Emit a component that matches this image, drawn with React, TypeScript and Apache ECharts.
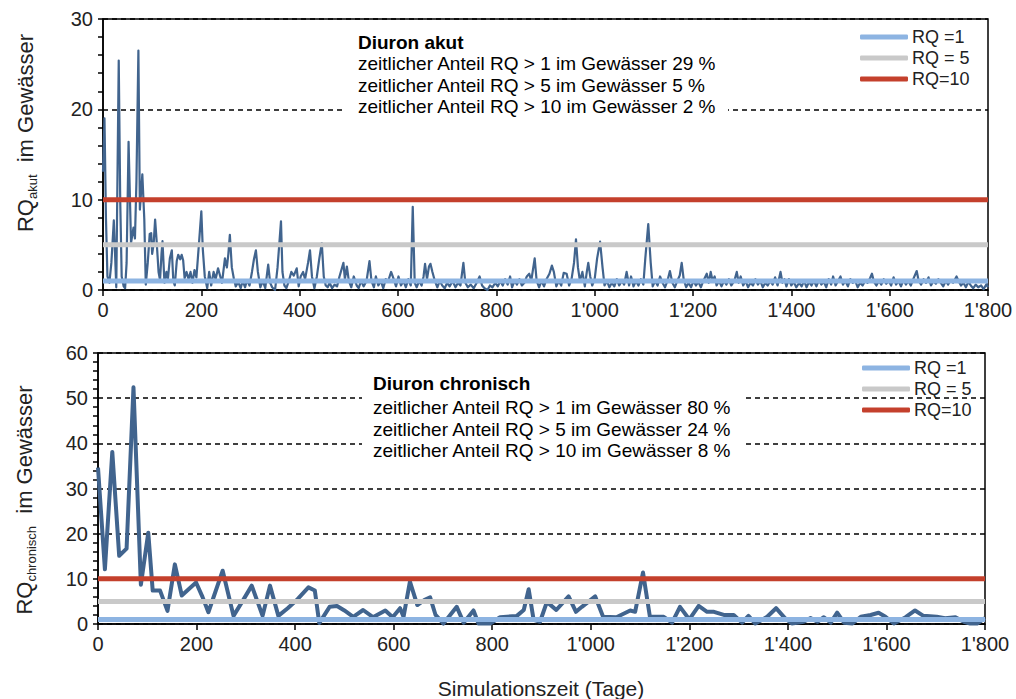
import React, { useEffect, useRef } from "react";
import * as echarts from "echarts";

// ---------- DATA ----------
const akutData: [number, number][] = [
  [0, 13.1], [3, 19.0], [6, 8], [9, 1.5], [13, 0.8], [17, 3], [22, 7.7], [27, 0.3], [32, 25.4], [35, 10],
  [38, 1.5], [42, 0.4], [45, 0.2], [48, 3], [52, 16.4], [57, 5.2], [62, 6.9], [65, 5.7], [68, 12], [72, 26.5],
  [75, 8.9], [80, 12.8], [84, 7.8], [87, 0.6], [91, 3], [95, 6.2], [98, 6.3], [100, 4.0], [103, 5.1], [106, 7.8],
  [109, 5.5], [113, 2], [116, 1.1], [119, 4], [121, 5.4], [125, 0.8], [129, 2], [132, 1.2], [136, 3.5], [140, 4.4],
  [143, 1], [146, 0.5], [150, 3.2], [153, 3.9], [157, 3.4], [160, 3.9], [163, 3.3], [166, 1.3], [170, 2.0], [174, 1.2],
  [178, 2.0], [182, 0.8], [186, 2.2], [190, 1.4], [195, 5], [200, 8.7], [203, 4.5], [207, 1.5], [212, 0.2], [216, 2],
  [220, 0.5], [225, 2.0], [229, 1.2], [234, 2.4], [238, 1.6], [242, 0.8], [248, 3.5], [252, 2.5], [255, 4.0], [258, 6.1],
  [262, 2.5], [266, 1.3], [270, 0.4], [275, 0.9], [280, 0.2], [284, 1.0], [289, 0.3], [293, 1.1], [298, 0.5], [303, 2.0],
  [307, 3.4], [311, 4.4], [315, 2.0], [320, 0.3], [325, 1.0], [330, 0.2], [336, 2.8], [340, 0.8], [344, 0.3], [350, 0.0],
  [355, 2.5], [362, 7.6], [365, 2.0], [369, 0.5], [373, 0.2], [378, 1.0], [383, 2.0], [388, 1.6], [394, 2.4], [398, 0.4],
  [402, 1.5], [407, 2.0], [411, 1.2], [417, 3.0], [421, 4.4], [425, 1.5], [430, 0.2], [435, 1.5], [440, 3.5], [445, 5.2],
  [449, 1.5], [453, 0.5], [457, 0.3], [461, 0.8], [466, 0.2], [471, 0.6], [476, 0.4], [481, 1.5], [489, 3.0], [492, 1.2],
  [496, 2.6], [500, 1.0], [505, 0.3], [510, 1.5], [516, 0.5], [520, 0.2], [525, 1.0], [530, 0.4], [536, 1.0], [542, 3.2],
  [546, 1.0], [551, 0.3], [555, 1.5], [560, 0.5], [565, 1.0], [570, 0.2], [575, 1.2], [580, 1.0], [586, 2.0], [590, 1.4],
  [596, 0.4], [601, 1.5], [606, 0.5], [611, 1.0], [616, 0.3], [621, 1.2], [626, 0.5], [630, 9.2], [634, 0.8], [638, 0.3],
  [643, 1.0], [648, 0.5], [652, 1.5], [655, 2.9], [659, 1.2], [663, 2.6], [666, 2.9], [670, 2.0], [675, 1.0], [680, 0.3],
  [685, 1.0], [690, 0.5], [695, 0.2], [700, 0.8], [705, 0.4], [711, 1.0], [717, 0.3], [722, 0.8], [727, 0.5], [733, 3.0],
  [737, 0.8], [742, 0.3], [748, 0.6], [754, 0.2], [760, 0.8], [766, 1.5], [771, 0.5], [776, 0.2], [782, 0.0], [787, 0.5],
  [792, 0.3], [798, 0.8], [803, 0.4], [808, 1.0], [813, 0.5], [818, 1.2], [823, 0.6], [828, 1.5], [832, 0.3], [837, 1.0],
  [842, 0.6], [847, 1.2], [852, 0.5], [857, 0.8], [862, 1.5], [867, 1.8], [871, 1.0], [878, 3.5], [882, 1.0], [887, 0.3],
  [892, 1.0], [897, 0.4], [902, 1.2], [908, 1.8], [913, 2.7], [917, 2.0], [922, 0.4], [927, 1.0], [932, 0.5], [937, 1.9],
  [943, 1.8], [948, 0.5], [953, 1.2], [958, 3.0], [962, 5.6], [966, 2.5], [970, 1.0], [975, 2.0], [980, 0.4], [984, 2.0],
  [987, 3.0], [991, 1.5], [995, 0.5], [1000, 1.2], [1005, 3.5], [1011, 5.35], [1016, 2.5], [1020, 0.5], [1025, 1.0], [1030, 0.3],
  [1035, 0.8], [1040, 0.4], [1045, 1.2], [1050, 0.5], [1055, 1.0], [1060, 0.6], [1065, 2.0], [1070, 0.5], [1074, 1.5], [1079, 0.4],
  [1084, 1.0], [1089, 0.5], [1094, 1.2], [1099, 0.6], [1103, 3.5], [1109, 7.3], [1114, 3.0], [1118, 0.4], [1123, 1.0], [1128, 0.5],
  [1133, 1.5], [1138, 0.8], [1143, 0.3], [1148, 1.0], [1153, 2.1], [1158, 0.8], [1163, 0.3], [1168, 1.0], [1173, 1.6], [1177, 3.0],
  [1181, 1.2], [1186, 0.3], [1191, 0.8], [1196, 0.3], [1201, 1.0], [1206, 0.5], [1211, 0.9], [1216, 0.3], [1221, 1.0], [1228, 1.8],
  [1232, 0.8], [1236, 2.0], [1240, 1.0], [1244, 1.5], [1248, 0.5], [1253, 1.0], [1258, 0.4], [1263, 1.0], [1268, 0.6], [1273, 1.2],
  [1278, 0.5], [1284, 1.0], [1289, 2.0], [1293, 0.8], [1297, 1.5], [1302, 0.5], [1307, 1.0], [1312, 0.3], [1317, 0.8], [1322, 0.5],
  [1327, 1.2], [1332, 0.6], [1337, 1.0], [1342, 0.3], [1347, 0.8], [1352, 0.5], [1357, 1.0], [1362, 0.6], [1367, 1.4], [1372, 0.5],
  [1378, 2.0], [1382, 0.8], [1386, 1.2], [1390, 0.4], [1395, 1.2], [1400, 0.5], [1405, 0.9], [1410, 0.3], [1416, 0.8], [1421, 0.4],
  [1426, 1.0], [1431, 0.3], [1436, 0.9], [1441, 0.5], [1446, 1.0], [1451, 0.4], [1456, 1.1], [1461, 0.6], [1466, 0.9], [1471, 0.3],
  [1476, 1.2], [1481, 0.6], [1485, 1.5], [1490, 0.5], [1495, 1.0], [1500, 1.5], [1505, 0.6], [1510, 1.0], [1515, 0.4], [1520, 1.2],
  [1525, 0.8], [1530, 1.0], [1535, 0.3], [1540, 0.8], [1545, 0.5], [1550, 1.0], [1555, 0.8], [1560, 1.3], [1564, 1.8], [1568, 0.9],
  [1573, 0.5], [1578, 1.0], [1583, 0.6], [1588, 1.2], [1593, 0.7], [1598, 1.0], [1603, 0.5], [1608, 1.4], [1613, 0.6], [1618, 1.0],
  [1623, 0.4], [1628, 1.1], [1633, 0.6], [1638, 1.0], [1643, 0.5], [1648, 1.2], [1655, 2.1], [1659, 1.0], [1664, 0.6], [1669, 1.2],
  [1674, 0.8], [1679, 1.4], [1684, 0.5], [1689, 1.0], [1694, 0.7], [1699, 1.2], [1704, 0.8], [1709, 0.4], [1714, 1.0], [1719, 0.6],
  [1724, 1.1], [1729, 0.8], [1736, 1.5], [1740, 1.0], [1745, 0.5], [1750, 0.8], [1755, 0.3], [1760, 0.9], [1765, 0.5], [1770, 0.2],
  [1775, 0.6], [1780, 0.3], [1786, 0.5], [1791, 0.1], [1797, 0.65], [1800, 0.3],
];

const chronData: [number, number][] = [
  [0, 34.6], [14, 12.1], [29, 38.1], [43, 15.1], [58, 16.7], [72, 52.4], [87, 8.7], [102, 20.2], [111, 7.4], [126, 7.4],
  [141, 2.9], [156, 13.2], [170, 6.3], [185, 7.8], [199, 9.2], [212, 6.0], [224, 2.6], [253, 11.8], [275, 1.8], [293, 5.0],
  [312, 8.5], [334, 1.8], [349, 8.5], [366, 1.8], [385, 3.5], [405, 5.5], [427, 8.1], [440, 7.4], [449, 0.2], [470, 3.8],
  [485, 4.0], [500, 3.0], [518, 1.6], [538, 3.1], [558, 1.5], [583, 3.0], [598, 1.5], [613, 3.5], [620, 1.6], [633, 9.4],
  [648, 4.2], [662, 5.3], [674, 5.9], [685, 2.0], [701, 0.1], [728, 3.8], [742, 0.3], [762, 3.0], [772, 0.1], [796, 0.1],
  [816, 1.5], [850, 1.8], [864, 3.1], [874, 7.7], [884, 0.9], [897, 0.5], [911, 4.9], [930, 3.1], [955, 6.1], [970, 2.7],
  [982, 3.8], [1009, 6.1], [1025, 1.6], [1052, 1.5], [1080, 3.0], [1090, 2.7], [1106, 11.4], [1120, 1.6], [1148, 1.6], [1165, 0.3],
  [1181, 3.8], [1200, 1.0], [1219, 4.0], [1236, 2.7], [1250, 2.7], [1270, 2.0], [1290, 2.0], [1307, 0.3], [1320, 1.8], [1334, 0.1],
  [1358, 1.6], [1376, 3.5], [1394, 1.3], [1408, 0.1], [1432, 0.5], [1446, 1.3], [1460, 0.5], [1473, 1.5], [1487, 0.3], [1500, 2.5],
  [1514, 0.3], [1531, 0.1], [1548, 1.6], [1568, 2.0], [1584, 2.5], [1598, 1.6], [1615, 0.1], [1639, 1.5], [1658, 3.0], [1675, 1.8],
  [1702, 1.6], [1719, 1.3], [1740, 1.5], [1757, 0.5], [1770, 0.1], [1784, 0.1], [1800, 1.3],
];

const thresholdNames = ["RQ =1", "RQ = 5", "RQ=10"];
const thresholdValues = [1, 5, 10];
const thresholdColors = ["#8DB4E2", "#C9C9C9", "#C4402C"];

const xMin = 0;
const xMax = 1800;
const xInterval = 200;
const akutYMax = 30;
const chronYMax = 60;
const yInterval = 10;

const akutTitle = "Diuron akut";
const akutLines = [
  "zeitlicher Anteil RQ > 1 im Gewässer 29 %",
  "zeitlicher Anteil RQ > 5 im Gewässer 5 %",
  "zeitlicher Anteil RQ > 10 im Gewässer 2 %",
];
const chronTitle = "Diuron chronisch";
const chronLines = [
  "zeitlicher Anteil RQ > 1 im Gewässer 80 %",
  "zeitlicher Anteil RQ > 5 im Gewässer 24 %",
  "zeitlicher Anteil RQ > 10 im Gewässer 8 %",
];
const yNameMain = "RQ";
const yNameRest = "  im Gewässer";
const xAxisTitle = "Simulationszeit (Tage)";

// ---------- CHART ----------
const FONT = '"Liberation Sans", Arial, sans-serif';
const LINE_COLOR = "#41648E";

function measure(text: string, font: string): number {
  const c = document.createElement("canvas").getContext("2d");
  if (!c) return text.length * 10;
  c.font = font;
  return c.measureText(text).width;
}

function fmtX(v: number): string {
  if (v >= 1000) {
    const th = Math.floor(v / 1000);
    const rest = String(v % 1000).padStart(3, "0");
    return th + "'" + rest;
  }
  return String(v);
}

function xAxisCfg(gridIndex: number) {
  return {
    type: "value",
    gridIndex,
    min: xMin,
    max: xMax,
    interval: xInterval,
    axisLine: { show: true, onZero: false, lineStyle: { color: "#000", width: 1.5 } },
    axisTick: { show: true, inside: false, length: 6, lineStyle: { color: "#000", width: 1.5 } },
    axisLabel: { formatter: fmtX, fontSize: 20, fontFamily: FONT, color: "#222", margin: 10 },
    splitLine: { show: false },
  };
}

function yAxisCfg(gridIndex: number, max: number) {
  return {
    type: "value",
    gridIndex,
    min: 0,
    max,
    interval: yInterval,
    axisLine: { show: true, lineStyle: { color: "#000", width: 1.5 } },
    axisTick: { show: true, inside: false, length: 5, lineStyle: { color: "#000", width: 1.5 } },
    minorTick: { show: true, splitNumber: 5, length: 5, lineStyle: { color: "#000", width: 1.5 } },
    axisLabel: { fontSize: 20, fontFamily: FONT, color: "#222", margin: 10 },
    splitLine: { show: true, lineStyle: { color: "#000", type: [5, 4], width: 1.5 } },
  };
}

function thresholdSeries(idx: number) {
  return thresholdValues.map((v, i) => ({
    type: "line",
    name: thresholdNames[i],
    xAxisIndex: idx,
    yAxisIndex: idx,
    data: [
      [xMin, v],
      [xMax, v],
    ],
    showSymbol: false,
    symbol: "none",
    color: thresholdColors[i],
    lineStyle: { color: thresholdColors[i], width: 5 },
    z: 4,
    silent: true,
  }));
}

function textBlock(x: number, ys: number[], title: string, lines: string[], rect: number[]) {
  const els: any[] = [
    {
      type: "rect",
      shape: { x: rect[0], y: rect[1], width: rect[2], height: rect[3] },
      style: { fill: "#fff" },
      z: 10,
    },
    {
      type: "text",
      x,
      y: ys[0],
      z: 11,
      style: { text: title, font: `bold 19px ${FONT}`, fill: "#000", verticalAlign: "middle" },
    },
  ];
  lines.forEach((t, i) => {
    els.push({
      type: "text",
      x,
      y: ys[i + 1],
      z: 11,
      style: { text: t, font: `19px ${FONT}`, fill: "#000", verticalAlign: "middle" },
    });
  });
  return els;
}

function yName(cx: number, cy: number, sub: string) {
  const mainFont = `22px ${FONT}`;
  const subFont = `13px ${FONT}`;
  const w1 = measure(yNameMain, mainFont);
  const w2 = measure(sub, subFont);
  const w3 = measure(yNameRest, mainFont);
  const x0 = -(w1 + w2 + w3) / 2;
  return {
    type: "group",
    x: cx,
    y: cy,
    rotation: Math.PI / 2,
    z: 11,
    children: [
      { type: "text", x: x0, y: 0, z: 11, style: { text: yNameMain, font: mainFont, fill: "#222", verticalAlign: "middle" } },
      { type: "text", x: x0 + w1, y: 7, z: 11, style: { text: sub, font: subFont, fill: "#222", verticalAlign: "middle" } },
      { type: "text", x: x0 + w1 + w2, y: 0, z: 11, style: { text: yNameRest, font: mainFont, fill: "#222", verticalAlign: "middle" } },
    ],
  };
}

function legendCfg(left: number, top: number) {
  return {
    orient: "vertical",
    left,
    top,
    data: thresholdNames,
    icon: "roundRect",
    itemWidth: 48,
    itemHeight: 5,
    itemGap: 3,
    padding: 0,
    selectedMode: false,
    textStyle: { fontSize: 18, fontFamily: FONT, color: "#222", padding: [0, 0, 0, -1] },
  };
}

export default function App() {
  const ref = useRef<HTMLDivElement>(null);
  useEffect(() => {
    if (!ref.current) return;
    const chart = echarts.init(ref.current, null, { renderer: "svg" });
    const option: any = {
      animation: false,
      backgroundColor: "#fff",
      grid: [
        { left: 103, top: 19, width: 885, height: 271, show: true, borderColor: "#000", borderWidth: 1.5, backgroundColor: "transparent" },
        { left: 98, top: 353, width: 887, height: 271, show: true, borderColor: "#000", borderWidth: 1.5, backgroundColor: "transparent" },
      ],
      xAxis: [xAxisCfg(0), xAxisCfg(1)],
      yAxis: [yAxisCfg(0, akutYMax), yAxisCfg(1, chronYMax)],
      legend: [legendCfg(860, 28), legendCfg(862, 359)],
      series: [
        {
          type: "line",
          name: "Diuron akut",
          xAxisIndex: 0,
          yAxisIndex: 0,
          data: akutData,
          showSymbol: false,
          symbol: "none",
          lineStyle: { color: LINE_COLOR, width: 2.2, join: "round" },
          color: LINE_COLOR,
          z: 3,
        },
        ...thresholdSeries(0),
        {
          type: "line",
          name: "Diuron chronisch",
          xAxisIndex: 1,
          yAxisIndex: 1,
          data: chronData,
          showSymbol: false,
          symbol: "none",
          lineStyle: { color: LINE_COLOR, width: 4, join: "round" },
          color: LINE_COLOR,
          z: 3,
        },
        ...thresholdSeries(1),
      ],
      graphic: [
        ...textBlock(358, [42, 63, 85, 106], akutTitle, akutLines, [345, 30, 383, 88]),
        ...textBlock(373, [383, 407, 429, 450], chronTitle, chronLines, [362, 372, 383, 88]),
        yName(25, 133, "akut"),
        yName(24, 500, "chronisch"),
        {
          type: "text",
          x: 541,
          y: 688,
          z: 11,
          style: { text: xAxisTitle, font: `21px ${FONT}`, fill: "#222", align: "center", verticalAlign: "middle" },
        },
      ],
    };
    chart.setOption(option);
    return () => chart.dispose();
  }, []);
  return (
    <div
      ref={ref}
      style={{ position: "absolute", left: 0, top: 0, width: 1016, height: 699, background: "#fff" }}
    />
  );
}
